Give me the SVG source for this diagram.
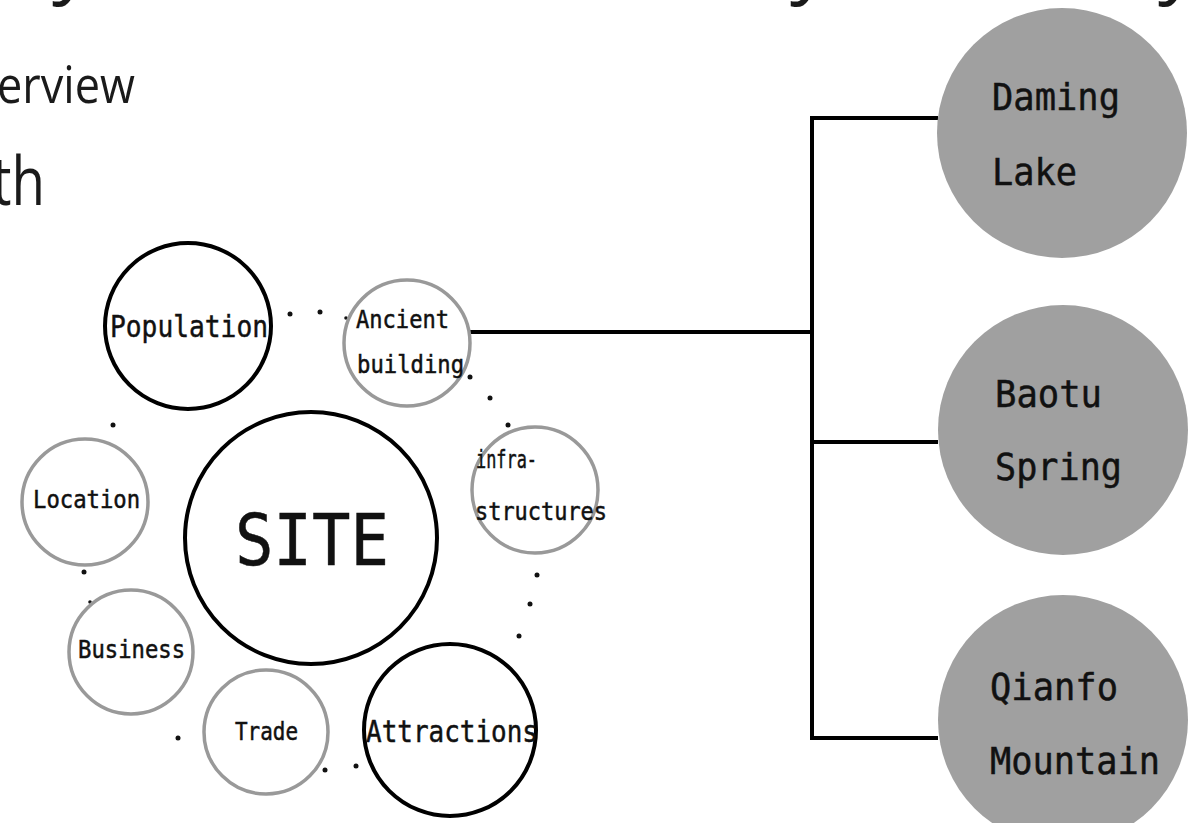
<svg xmlns="http://www.w3.org/2000/svg" width="1190" height="823" viewBox="0 0 1190 823">
<style>
.hdr{font-family:"Open Sans","Noto Sans",sans-serif;fill:#1a1a1a}
.lbl{font-family:"DejaVu Sans Mono","Liberation Mono",monospace;fill:#111;stroke:#111;stroke-width:0.5}
.ring{fill:#fff;stroke:#000;stroke-width:4}
.gring{fill:#fff;stroke:#999;stroke-width:3.5}
.gfill{fill:#a0a0a0;stroke:none}
.dot{fill:#111}
.conn{fill:none;stroke:#000;stroke-width:4}
</style>
<rect width="1190" height="823" fill="#fff"/>
<g id="title">
<text class="hdr" x="52" y="-12" font-size="80">y</text>
<text class="hdr" x="790" y="-12" font-size="80">y</text>
<text class="hdr" x="1158" y="-12" font-size="80">y</text>
<text class="hdr" x="-3" y="103" font-size="52" textLength="138" lengthAdjust="spacingAndGlyphs">erview</text>
<text class="hdr" x="-8" y="205" font-size="68" textLength="53" lengthAdjust="spacingAndGlyphs">th</text>
</g>
<g id="connectors">
<line class="conn" x1="470" y1="332" x2="812" y2="332"/>
<polyline class="conn" points="938,118 812,118 812,738 938,738"/>
<line class="conn" x1="812" y1="442" x2="938" y2="442"/>
</g>
<g id="dots">
<circle class="dot" cx="290" cy="314" r="2.5"/>
<circle class="dot" cx="320" cy="312" r="2.5"/>
<circle class="dot" cx="346" cy="318" r="1.8"/>
<circle class="dot" cx="470" cy="377" r="2.5"/>
<circle class="dot" cx="490" cy="398" r="2.5"/>
<circle class="dot" cx="508" cy="425" r="2.5"/>
<circle class="dot" cx="113" cy="425" r="2.5"/>
<circle class="dot" cx="84" cy="572" r="2.5"/>
<circle class="dot" cx="90" cy="602" r="1.8"/>
<circle class="dot" cx="155" cy="707" r="2.5"/>
<circle class="dot" cx="178" cy="738" r="2.5"/>
<circle class="dot" cx="325" cy="770" r="2.5"/>
<circle class="dot" cx="356" cy="766" r="2.5"/>
<circle class="dot" cx="537" cy="575" r="2.5"/>
<circle class="dot" cx="530" cy="604" r="2.5"/>
<circle class="dot" cx="519" cy="636" r="2.5"/>
</g>
<g id="population">
<circle class="ring" cx="188" cy="326" r="83"/>
<text class="lbl" x="110" y="337" font-size="31" textLength="158" lengthAdjust="spacingAndGlyphs">Population</text>
</g>
<g id="ancient-building">
<circle class="gring" cx="407" cy="343" r="63"/>
<text class="lbl" x="356" y="328" font-size="24" textLength="93" lengthAdjust="spacingAndGlyphs">Ancient</text>
<text class="lbl" x="357" y="373" font-size="24" textLength="107" lengthAdjust="spacingAndGlyphs">building</text>
</g>
<g id="site">
<circle class="ring" cx="311" cy="538" r="126"/>
<text class="lbl" x="235" y="565" font-size="72" textLength="154" lengthAdjust="spacingAndGlyphs">SITE</text>
</g>
<g id="location">
<circle class="gring" cx="85" cy="502" r="63"/>
<text class="lbl" x="33" y="508" font-size="24" textLength="107" lengthAdjust="spacingAndGlyphs">Location</text>
</g>
<g id="infrastructures">
<circle class="gring" cx="535" cy="490" r="63"/>
<text class="lbl" x="476" y="468" font-size="24" textLength="61" lengthAdjust="spacingAndGlyphs">infra-</text>
<text class="lbl" x="475" y="520" font-size="24" textLength="132" lengthAdjust="spacingAndGlyphs">structures</text>
</g>
<g id="business">
<circle class="gring" cx="131" cy="652" r="62"/>
<text class="lbl" x="78" y="658" font-size="24" textLength="107" lengthAdjust="spacingAndGlyphs">Business</text>
</g>
<g id="trade">
<circle class="gring" cx="266" cy="732" r="62"/>
<text class="lbl" x="235" y="740" font-size="24" textLength="63" lengthAdjust="spacingAndGlyphs">Trade</text>
</g>
<g id="attractions">
<circle class="ring" cx="450" cy="730" r="86"/>
<text class="lbl" x="366" y="742" font-size="31" textLength="172" lengthAdjust="spacingAndGlyphs">Attractions</text>
</g>
<g id="daming-lake">
<circle class="gfill" cx="1062" cy="133" r="125"/>
<text class="lbl" x="992" y="110" font-size="38" textLength="128" lengthAdjust="spacingAndGlyphs">Daming</text>
<text class="lbl" x="992" y="185" font-size="38" textLength="85" lengthAdjust="spacingAndGlyphs">Lake</text>
</g>
<g id="baotu-spring">
<circle class="gfill" cx="1063" cy="430" r="125"/>
<text class="lbl" x="995" y="407" font-size="38" textLength="107" lengthAdjust="spacingAndGlyphs">Baotu</text>
<text class="lbl" x="995" y="480" font-size="38" textLength="127" lengthAdjust="spacingAndGlyphs">Spring</text>
</g>
<g id="qianfo-mountain">
<circle class="gfill" cx="1063" cy="720" r="125"/>
<text class="lbl" x="990" y="700" font-size="38" textLength="128" lengthAdjust="spacingAndGlyphs">Qianfo</text>
<text class="lbl" x="990" y="774" font-size="38" textLength="170" lengthAdjust="spacingAndGlyphs">Mountain</text>
</g>
</svg>
